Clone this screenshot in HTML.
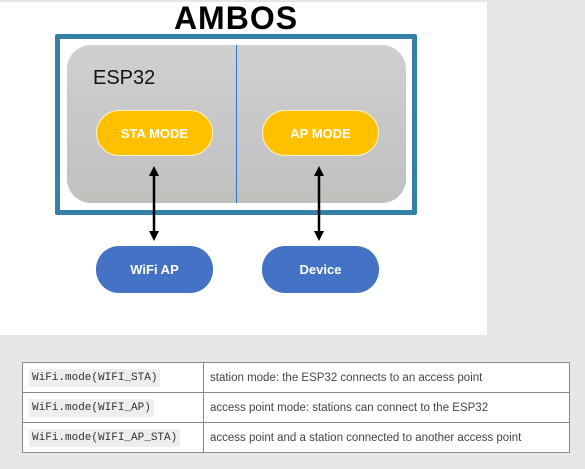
<!DOCTYPE html>
<html><head><style>
body{margin:0;width:585px;height:469px;background:#e6e6e6;position:relative;overflow:hidden;font-family:"Liberation Sans",sans-serif}
.a{position:absolute}
.pill{position:absolute;border-radius:23px;color:#fff;font-weight:bold;font-size:13px;display:flex;align-items:center;justify-content:center}
.y{background:#ffc000;border:1.5px solid #fff3c0;box-sizing:border-box}
.b{background:#4472c4}
table{position:absolute;left:22px;top:362px;width:548px;border-collapse:collapse;background:#fff;font-size:11.5px;color:#444}
td{border:1px solid #888;height:29px;padding:0 6px}
code{font-family:"Liberation Mono",monospace;font-size:11px;background:#eee;padding:3px 3px;color:#333}
</style></head><body>
<div class="a" style="left:0;top:2px;width:487px;height:333px;background:#fff"></div>
<div class="a" style="left:0;top:1px;width:472px;text-align:center;font-weight:bold;font-size:32px;letter-spacing:1px;line-height:34px">AMBOS</div>
<div class="a" style="left:55px;top:34px;width:352px;height:171px;border:5px solid #3480a6;border-radius:2px"></div>
<div class="a" style="left:67px;top:45px;width:339px;height:158px;border-radius:24px;background:linear-gradient(#d0d0d0,#c4c4c6 70%,#bec2bc)"></div>
<div class="a" style="left:236px;top:45px;width:1px;height:158px;background:#3b6fd0"></div>
<div class="a" style="left:93px;top:67px;font-size:20px;color:#111">ESP32</div>
<div class="pill y" style="left:96px;top:110px;width:117px;height:46px">STA MODE</div>
<div class="pill y" style="left:262px;top:110px;width:117px;height:46px">AP MODE</div>
<div class="pill b" style="left:96px;top:246px;width:117px;height:47px">WiFi AP</div>
<div class="pill b" style="left:262px;top:246px;width:117px;height:47px">Device</div>
<svg class="a" style="left:0;top:0" width="585" height="469">
<g stroke="#000" stroke-width="2.5"><line x1="154" y1="172" x2="154" y2="235"/><line x1="319" y1="172" x2="319" y2="235"/></g>
<g fill="#000"><polygon points="149,176 154,166 159,176"/><polygon points="149,231 154,241 159,231"/><polygon points="314,176 319,166 324,176"/><polygon points="314,231 319,241 324,231"/></g>
</svg>
<table>
<tr><td style="width:168px"><code>WiFi.mode(WIFI_STA)</code></td><td>station mode: the ESP32 connects to an access point</td></tr>
<tr><td><code>WiFi.mode(WIFI_AP)</code></td><td>access point mode: stations can connect to the ESP32</td></tr>
<tr><td><code>WiFi.mode(WIFI_AP_STA)</code></td><td>access point and a station connected to another access point</td></tr>
</table>
</body></html>
